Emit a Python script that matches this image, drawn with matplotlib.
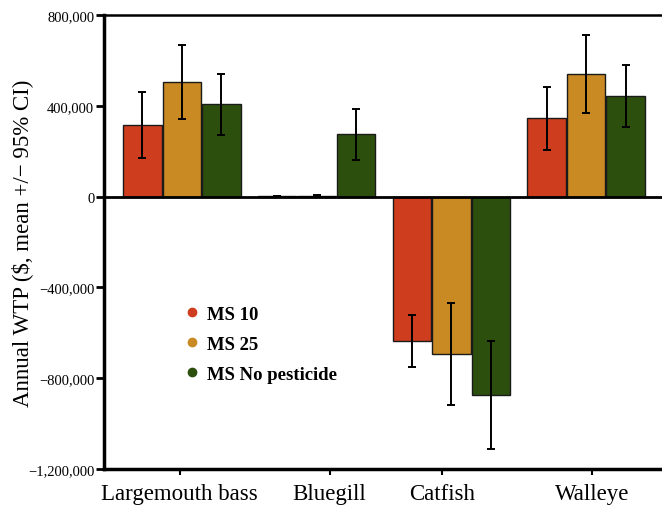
import matplotlib
matplotlib.use("Agg")
import matplotlib.pyplot as plt
from matplotlib.ticker import FuncFormatter
from matplotlib.lines import Line2D
import numpy as np

plt.rcParams['font.family'] = ['Liberation Serif', 'DejaVu Serif']

species = ["Largemouth bass", "Bluegill", "Catfish", "Walleye"]
series = ["MS 10", "MS 25", "MS No pesticide"]
colors = ["#CE3D1D", "#C98A23", "#2C4F0E"]

# mean WTP and half-width of 95% CI, per series (order of species)
means = {
    "MS 10": [314000, 2000, -635000, 345000],
    "MS 25": [505000, 4000, -693000, 542000],
    "MS No pesticide": [406000, 274000, -874000, 442000],
}
ci = {
    "MS 10": [145000, 1000, 114000, 138000],
    "MS 25": [165000, 5000, 226000, 172000],
    "MS No pesticide": [135000, 112000, 240000, 137000],
}
# where the category labels sit (slightly off the group centres in the original)
label_pos = [-0.015, 1.096, 1.933, 3.044]

fig = plt.figure(figsize=(6.62, 5.10), dpi=100)
ax = fig.add_axes([104 / 662, 40 / 510, 1 - 104 / 662, 454 / 510])

x = np.arange(len(species))
width = 0.285
offsets = [-0.293, 0.0, 0.293]
for name, col, off in zip(series, colors, offsets):
    ax.bar(x + off, means[name], width, color=col, edgecolor="#1a1a1a",
           linewidth=1.0, zorder=2)
    ax.errorbar(x + off, means[name], yerr=ci[name], fmt="none",
                ecolor="black", elinewidth=1.4, capsize=3, capthick=1.4,
                zorder=3)

ax.axhline(0, color="black", linewidth=2, zorder=4)

ax.set_xlim(-0.578, 3.563)
ax.set_ylim(-1200000, 800000)
ax.set_yticks([-1200000, -800000, -400000, 0, 400000, 800000])
ax.yaxis.set_major_formatter(
    FuncFormatter(lambda v, p: f"{v:,.0f}".replace("-", "\u2212")))
ax.set_xticks(label_pos)
ax.set_xticklabels(species, fontsize=16.5)
ax.tick_params(axis="y", labelsize=10.5, width=2, length=6, pad=1)
ax.tick_params(axis="x", width=1.5, length=4, pad=6)

ax.spines["right"].set_visible(False)
ax.spines["left"].set_linewidth(2.5)
ax.spines["bottom"].set_linewidth(2.5)
ax.spines["top"].set_linewidth(1.8)

ax.set_ylabel("Annual WTP ($, mean +/\u2212 95% CI)", fontsize=16.5)
ax.yaxis.set_label_coords(-0.128, 0.5)

handles = [Line2D([], [], marker="o", linestyle="none", markersize=6,
                  markerfacecolor=c, markeredgecolor=c) for c in colors]
ax.legend(handles, series, loc="upper left", bbox_to_anchor=(0.11, 0.397),
          frameon=False, prop={"weight": "bold", "size": 13.5},
          handletextpad=0.3, labelspacing=0.68, handlelength=1.0)

fig.savefig("out.png", dpi=100)
